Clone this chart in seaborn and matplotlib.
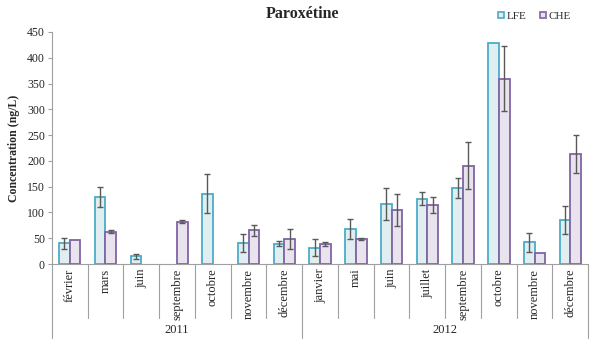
import numpy as np
import pandas as pd
import matplotlib
matplotlib.use("Agg")
import matplotlib.pyplot as plt
import matplotlib.transforms as mtransforms
import seaborn as sns

nan = np.nan

years = ["2011"] * 7 + ["2012"] * 8
months = ["février", "mars", "juin", "septembre", "octobre", "novembre", "décembre",
          "janvier", "mai", "juin", "juillet", "septembre", "octobre", "novembre", "décembre"]
lfe = [40, 130, 15, nan, 136, 41, 39,
       32, 68, 116, 127, 147, 428, 42, 86]
lfe_err = [11, 20, 5, nan, 38, 17, 5,
           17, 19, 31, 12, 19, nan, 18, 27]
che = [46, 63, nan, 82, nan, 65, 48,
       39, 49, 104, 114, 191, 359, 22, 213]
che_err = [nan, 2, nan, 3, nan, 10, 19,
           4, 2, 31, 16, 45, 63, nan, 37]

keys = [f"{y}-{m}" for y, m in zip(years, months)]
df = pd.concat([
    pd.DataFrame({"key": keys, "site": "LFE", "val": lfe}),
    pd.DataFrame({"key": keys, "site": "CHE", "val": che}),
], ignore_index=True)

edge = {"LFE": "#4BACC6", "CHE": "#8064A2"}
face = {"LFE": "#DDF0F5", "CHE": "#E8E2EE"}

sns.set_style("white")
plt.rcParams["font.family"] = ["Liberation Serif", "DejaVu Serif"]

fig = plt.figure(figsize=(5.96, 3.40), dpi=100)
ax = fig.add_axes([0.087, 0.2235, 0.900, 0.6825])

sns.barplot(data=df, x="key", y="val", hue="site", order=keys, hue_order=["LFE", "CHE"],
            palette=face, width=0.6, ax=ax, errorbar=None, linewidth=1.3)
for cont, site in zip(ax.containers, ["LFE", "CHE"]):
    for p in cont:
        p.set_edgecolor(edge[site])

n = len(keys)
idx = np.arange(n)
ax.errorbar(idx - 0.15, lfe, yerr=lfe_err, fmt="none", ecolor="#595959",
            elinewidth=1, capsize=2.5, capthick=1)
ax.errorbar(idx + 0.15, che, yerr=che_err, fmt="none", ecolor="#595959",
            elinewidth=1, capsize=2.5, capthick=1)

ax.set_xlim(-0.5, n - 0.5)
ax.set_ylim(0, 450)
ax.set_yticks(np.arange(0, 451, 50))
ax.tick_params(axis="y", labelsize=8.5, length=3, color="#A0A0A0", left=True, pad=2)
ax.set_xticks([])
ax.set_xlabel("")
ax.set_ylabel("Concentration (ng/L)", fontsize=8.5, fontweight="bold", labelpad=5)
for s in ["top", "right"]:
    ax.spines[s].set_visible(False)
for s in ["left", "bottom"]:
    ax.spines[s].set_color("#A0A0A0")
    ax.spines[s].set_linewidth(0.8)

trans = mtransforms.blended_transform_factory(ax.transData, ax.transAxes)
for i, m in enumerate(months):
    ax.text(i, -0.02, m, rotation=90, ha="center", va="top", fontsize=9,
            transform=trans)
for i in range(n + 1):
    b = i - 0.5
    low = -0.32 if b in (-0.5, 6.5, n - 0.5) else -0.233
    ax.plot([b, b], [0, low], color="#A0A0A0", lw=0.8, transform=trans, clip_on=False)

ax.text(3, -0.285, "2011", ha="center", va="center", fontsize=9, transform=trans)
ax.text(10.5, -0.285, "2012", ha="center", va="center", fontsize=9, transform=trans)

fig.text(0.508, 0.958, "Paroxétine", ha="center", va="center", fontsize=11.5, fontweight="bold")

handles, labels = ax.get_legend_handles_labels()
for h, site in zip(handles, labels):
    h.set_edgecolor(edge[site])
    h.set_linewidth(1.2)
ax.legend_.remove()
fig.legend(handles, labels, loc="center right", bbox_to_anchor=(0.975, 0.952), ncol=2,
           frameon=False, fontsize=8, handlelength=0.5, handleheight=0.5,
           handletextpad=0.3, columnspacing=1.2)

fig.savefig("out.png", dpi=100)
